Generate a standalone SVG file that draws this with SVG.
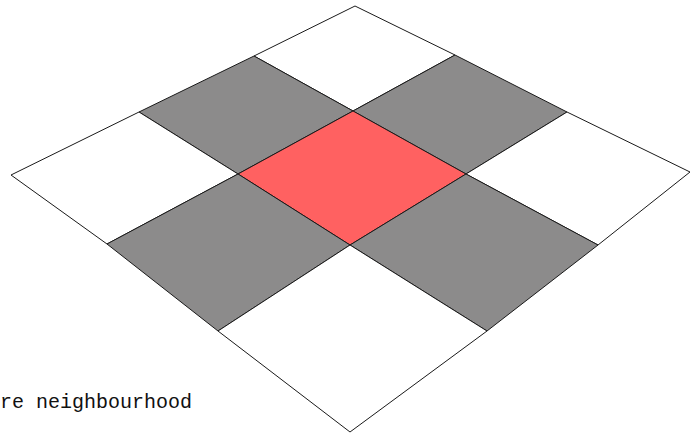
<svg xmlns="http://www.w3.org/2000/svg" width="691" height="435" viewBox="0 0 691 435">
<style>
.cell{stroke:#1a1a1a;stroke-width:1;stroke-linejoin:miter}
.w{fill:#ffffff}
.g{fill:#8c8b8b}
.r{fill:#ff6161}
.lbl{font-family:"Liberation Mono","Courier New",monospace;font-size:20px;fill:#111}
</style>
<rect width="691" height="435" fill="#ffffff"/>
<g id="cell-0-0"><polygon class="cell w" points="355,6 455,55 353,111 254,56"/></g>
<g id="cell-0-1"><polygon class="cell g" points="455,55 567,112 466,174 353,111"/></g>
<g id="cell-0-2"><polygon class="cell w" points="567,112 690,172 598,245 466,174"/></g>
<g id="cell-1-0"><polygon class="cell g" points="254,56 353,111 238,174 139,112"/></g>
<g id="cell-1-1"><polygon class="cell r" points="353,111 466,174 350,245 238,174"/></g>
<g id="cell-1-2"><polygon class="cell g" points="466,174 598,245 487,331 350,245"/></g>
<g id="cell-2-0"><polygon class="cell w" points="139,112 238,174 107,244 11,175"/></g>
<g id="cell-2-1"><polygon class="cell g" points="238,174 350,245 218,331 107,244"/></g>
<g id="cell-2-2"><polygon class="cell w" points="350,245 487,331 350,432 218,331"/></g>
<g id="connectors"></g>
<g id="label"><text class="lbl" x="-36" y="408">Moore neighbourhood</text></g>
</svg>
